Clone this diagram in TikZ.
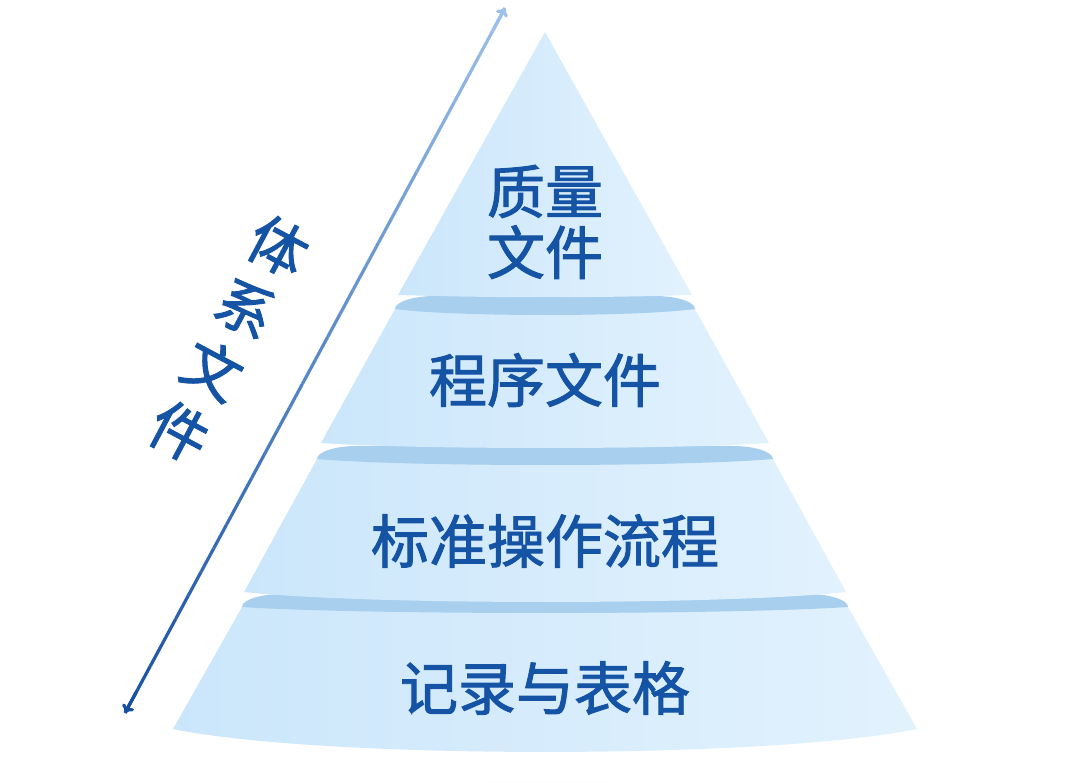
\documentclass[tikz,border=0pt]{standalone}
\usepackage{fontspec}
\newfontfamily\cjk{Noto Sans CJK SC}[FakeBold=1.6]
\usetikzlibrary{calc,arrows.meta}
\definecolor{txtblue}{HTML}{1553A5}
\definecolor{layleft}{HTML}{CBE6FB}
\definecolor{layright}{HTML}{E2F2FD}
\definecolor{capblue}{HTML}{A8CFEE}
\definecolor{arrdark}{HTML}{1550A3}
\definecolor{arrlight}{HTML}{9CC0E9}
\tikzstyle{layer} = [left color=layleft,right color=layright,draw=none]

\begin{document}
\begin{tikzpicture}
		[
		x=1pt,y=-1pt,
		band/.style={fill=capblue,draw=none},
		layertext/.style={
		text=txtblue,
		align=center,
		inner sep=0pt,
		font=\cjk\fontsize{58}{61}\selectfont}
		]
		\useasboundingbox (0,0) rectangle (1080,783);
		\shade[inner color=black!7,outer color=white] (545,805) ellipse [x radius=380,y radius=24];

		\foreach \tw/\ty/\bw/\by/\dp in {303/607/372/729/23,228/459/301/592/10,150/309/224/443/5}{
		\path[layer] (545-\tw,\ty) -- (545-\bw,\by) .. controls +(0.4*\bw,1.33*\dp) and +(-0.4*\bw,1.33*\dp) .. (545+\bw,\by) -- (545+\tw,\ty) -- cycle;
		\path[band] (545-\tw,\ty) .. controls (545-\tw,\ty-7) and (563-\tw,\ty-13) .. (585-\tw,\ty-13) -- (505+\tw,\ty-13) .. controls (527+\tw,\ty-13) and (545+\tw,\ty-7) .. (545+\tw,\ty) .. controls +(-0.4*\tw,8) and +(0.4*\tw,8) .. (545-\tw,\ty) -- cycle;
		}
		\path[layer] (545,32) -- (398,295) .. controls +(100,3) and +(-100,3) .. (692,295) -- cycle;

		\node[layertext] (quality) at (545,222) {质量\\文件};
		\node[layertext] (procedure) at (545,380) {程序文件};
		\node[layertext] (sop) at (545,541) {标准操作流程};
		\node[layertext] (records) at (545,688) {记录与表格};
		\node[layertext,rotate=-28,font=\cjk\fontsize{58}{70}\selectfont] (system) at (229,339) {体\\系\\文\\件};

		\coordinate (arrtop) at (505,8);
		\coordinate (arrbot) at (125,713);
		\foreach \i in {1,...,30}{
		\pgfmathtruncatemacro\pct{100-100*(\i-0.5)/30}
		\draw[line width=3.2pt,arrdark!\pct!arrlight] ($(arrbot)!{(\i-1)/30}!(arrtop)$) -- ($(arrbot)!{\i/30}!(arrtop)$);
		}
		\draw[line width=3.2pt,arrdark,-{To[length=8pt,width=13pt]}] ($(arrbot)!0.03!(arrtop)$) -- (arrbot);
		\draw[line width=3.2pt,arrlight,-{To[length=8pt,width=13pt]}] ($(arrbot)!0.97!(arrtop)$) -- (arrtop);
\end{tikzpicture}
\end{document}
